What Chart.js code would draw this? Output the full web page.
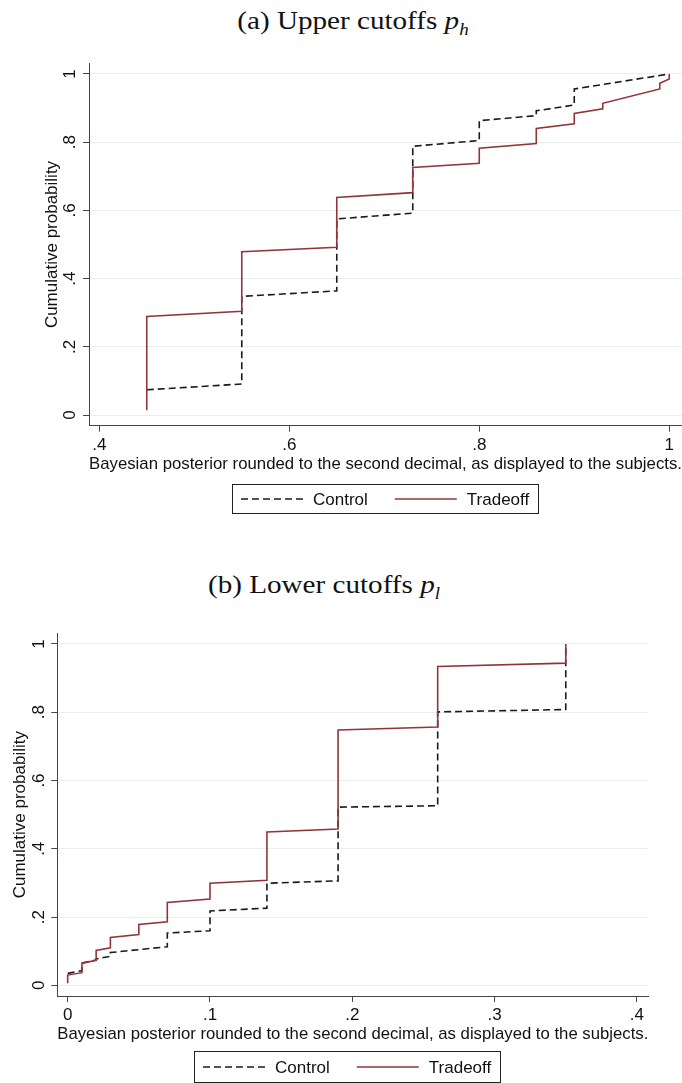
<!DOCTYPE html>
<html>
<head>
<meta charset="utf-8">
<script src="https://cdn.jsdelivr.net/npm/chart.js@4.4.1/dist/chart.umd.min.js"></script>
<style>
  html, body { margin: 0; padding: 0; background: #fff; }
  body { width: 682px; height: 1083px; position: relative; overflow: hidden; }
  .panel-title {
    position: absolute;
    font-family: "Liberation Serif", "DejaVu Serif", serif;
    font-size: 26px;
    line-height: 30px;
    color: #111;
    white-space: nowrap;
    transform: translateX(-50%) scaleX(1.12);
  }
  .panel-title sub { font-size: 17px; }
  canvas { position: absolute; left: 0; }
</style>
</head>
<body>

<div class="panel-title" style="left:353px; top:6px;">(a) Upper cutoffs <i>p</i><sub><i>h</i></sub></div>
<div class="panel-title" style="left:324px; top:570px;">(b) Lower cutoffs <i>p</i><sub><i>l</i></sub></div>

<canvas id="chart-upper" width="682" height="490" style="top:40px"></canvas>
<canvas id="chart-lower" width="682" height="483" style="top:600px"></canvas>

<script>
// ---- data ----
const seriesNames = ['Control', 'Tradeoff'];

// (a) upper cutoffs
const upperControlX  = [0.45, 0.55, 0.55, 0.65, 0.65, 0.73, 0.73, 0.80, 0.80, 0.86, 0.86, 0.90, 0.90, 1.00];
const upperControlY  = [0.074, 0.091, 0.348, 0.364, 0.575, 0.592, 0.788, 0.805, 0.863, 0.878, 0.892, 0.909, 0.956, 1.000];
const upperTradeoffX = [0.45, 0.45, 0.55, 0.55, 0.65, 0.65, 0.73, 0.73, 0.80, 0.80, 0.86, 0.86, 0.90, 0.90, 0.93, 0.93, 0.99, 0.99, 1.00, 1.00];
const upperTradeoffY = [0.014, 0.289, 0.304, 0.479, 0.492, 0.638, 0.652, 0.726, 0.738, 0.782, 0.796, 0.840, 0.854, 0.884, 0.898, 0.914, 0.956, 0.973, 0.985, 1.000];

// (b) lower cutoffs
const lowerControlX  = [0, 0.01, 0.01, 0.02, 0.02, 0.03, 0.03, 0.07, 0.07, 0.10, 0.10, 0.14, 0.14, 0.19, 0.19, 0.26, 0.26, 0.35, 0.35];
const lowerControlY  = [0.035, 0.043, 0.065, 0.074, 0.077, 0.085, 0.096, 0.113, 0.153, 0.160, 0.218, 0.226, 0.299, 0.306, 0.522, 0.526, 0.801, 0.808, 1.000];
const lowerTradeoffX = [0, 0, 0.01, 0.01, 0.02, 0.02, 0.03, 0.03, 0.05, 0.05, 0.07, 0.07, 0.10, 0.10, 0.14, 0.14, 0.19, 0.19, 0.26, 0.26, 0.35, 0.35];
const lowerTradeoffY = [0.006, 0.030, 0.037, 0.065, 0.073, 0.102, 0.110, 0.140, 0.149, 0.178, 0.186, 0.243, 0.253, 0.299, 0.308, 0.449, 0.458, 0.748, 0.757, 0.934, 0.944, 1.000];

// ticks
const yTicks = [0, 0.2, 0.4, 0.6, 0.8, 1];
const yTickLabels = ['0', '.2', '.4', '.6', '.8', '1'];
const upperXTicks = [0.4, 0.6, 0.8, 1];
const upperXTickLabels = ['.4', '.6', '.8', '1'];
const lowerXTicks = [0, 0.1, 0.2, 0.3, 0.4];
const lowerXTickLabels = ['0', '.1', '.2', '.3', '.4'];

const xTitle = 'Bayesian posterior rounded to the second decimal, as displayed to the subjects.';
const yTitle = 'Cumulative probability';

const FONT = "'Liberation Sans', Arial, sans-serif";
Chart.defaults.font.family = FONT;
Chart.defaults.font.size = 17;
Chart.defaults.color = '#111';

const zip = (xs, ys) => xs.map((x, i) => ({ x: x, y: ys[i] }));

// y tick labels are turned 90°, as Stata does
const rotatedYTicks = {
  id: 'rotatedYTicks',
  afterDraw(chart, args, opts) {
    const sc = chart.scales.y;
    const ctx = chart.ctx;
    ctx.save();
    ctx.font = '17px ' + FONT;
    ctx.fillStyle = '#111';
    ctx.textAlign = 'center';
    ctx.textBaseline = 'middle';
    sc.ticks.forEach((t, i) => {
      ctx.save();
      ctx.translate(opts.x, sc.getPixelForValue(t.value));
      ctx.rotate(-Math.PI / 2);
      ctx.fillText(yTickLabels[i], 0, 0);
      ctx.restore();
    });
    ctx.restore();
  }
};

// boxed legend centred under the plot region
const boxLegend = {
  id: 'boxLegend',
  afterDraw(chart, args, opts) {
    const ctx = chart.ctx;
    const area = chart.chartArea;
    const sample = 62, gapIn = 10, pad = 9, between = 27, h = opts.height;
    ctx.save();
    ctx.font = '17px ' + FONT;
    const dsets = chart.data.datasets;
    const widths = dsets.map(d => ctx.measureText(d.label).width);
    const total = pad * 2 + widths.reduce((s, w) => s + sample + gapIn + w, 0) + between * (dsets.length - 1);
    let x = Math.round((area.left + area.right) / 2 - total / 2 + opts.shift);
    const top = Math.round(chart.scales.x.bottom + opts.gap);
    ctx.strokeStyle = '#222';
    ctx.lineWidth = 1;
    ctx.strokeRect(x + 0.5, top + 0.5, Math.round(total), h);
    const cy = top + h / 2 + 0.5;
    x += pad;
    dsets.forEach((d, i) => {
      ctx.beginPath();
      ctx.setLineDash(d.borderDash || []);
      ctx.strokeStyle = d.borderColor;
      ctx.lineWidth = d.borderWidth;
      ctx.moveTo(x, cy);
      ctx.lineTo(x + sample, cy);
      ctx.stroke();
      ctx.setLineDash([]);
      x += sample + gapIn;
      ctx.fillStyle = '#111';
      ctx.textAlign = 'left';
      ctx.textBaseline = 'middle';
      ctx.fillText(d.label, x, cy + 1);
      x += widths[i] + between;
    });
    ctx.restore();
  }
};

function makeChart(id, cfg) {
  return new Chart(document.getElementById(id), {
    type: 'line',
    data: {
      datasets: [
        {
          label: seriesNames[0],
          data: cfg.control,
          borderColor: '#1a1a1a',
          borderWidth: 1.6,
          borderDash: [7, 4],
          pointRadius: 0,
          tension: 0,
          fill: false,
          order: 2
        },
        {
          label: seriesNames[1],
          data: cfg.tradeoff,
          borderColor: '#903539',
          borderWidth: 1.6,
          pointRadius: 0,
          tension: 0,
          fill: false,
          order: 1
        }
      ]
    },
    options: {
      responsive: false,
      animation: false,
      layout: { padding: cfg.padding },
      plugins: {
        legend: { display: false },
        tooltip: { enabled: false },
        rotatedYTicks: { x: cfg.yLabelX },
        boxLegend: { gap: cfg.legendGap, height: cfg.legendHeight, shift: cfg.legendShift }
      },
      scales: {
        x: {
          type: 'linear',
          min: cfg.xMin,
          max: cfg.xMax,
          afterBuildTicks: s => { s.ticks = cfg.xTicks.map(v => ({ value: v })); },
          afterFit: s => { s.height = 50; },
          ticks: {
            padding: 3,
            maxRotation: 0,
            callback: (v) => cfg.xTickLabels[cfg.xTicks.indexOf(v)]
          },
          grid: { drawOnChartArea: false, tickLength: 6, tickColor: '#444' },
          border: { color: '#444', width: 1 },
          title: { display: true, text: xTitle, font: { size: 17 }, padding: { top: 0, bottom: cfg.xTitlePad } }
        },
        y: {
          type: 'linear',
          min: -0.0313,
          max: 1.0313,
          afterBuildTicks: s => { s.ticks = yTicks.map(v => ({ value: v })); },
          afterFit: s => { s.width = cfg.yWidth; },
          ticks: { display: false },
          grid: { color: '#e7eff1', lineWidth: 1, tickLength: 6, tickColor: '#444' },
          border: { color: '#444', width: 1 },
          title: { display: true, text: yTitle, font: { size: 17 }, padding: { top: cfg.yTitlePad, bottom: 0 } }
        }
      }
    },
    plugins: [rotatedYTicks, boxLegend]
  });
}

makeChart('chart-upper', {
  control: zip(upperControlX, upperControlY),
  tradeoff: zip(upperTradeoffX, upperTradeoffY),
  xMin: 0.3892, xMax: 1.0134,
  xTicks: upperXTicks, xTickLabels: upperXTickLabels,
  padding: { top: 23.3, right: 0, bottom: 54.3, left: 0 },
  yWidth: 89, yLabelX: 70, yTitlePad: 41.8, xTitlePad: 1.5,
  legendGap: 8.3, legendHeight: 29, legendShift: 0
});

makeChart('chart-lower', {
  control: zip(lowerControlX, lowerControlY),
  tradeoff: zip(lowerTradeoffX, lowerTradeoffY),
  xMin: -0.0073, xMax: 0.408,
  xTicks: lowerXTicks, xTickLabels: lowerXTickLabels,
  padding: { top: 33.3, right: 33.7, bottom: 37, left: 0 },
  yWidth: 57.3, yLabelX: 39, yTitlePad: 9.8, xTitlePad: 1.8,
  legendGap: 5, legendHeight: 31, legendShift: -6
});
</script>
</body>
</html>
